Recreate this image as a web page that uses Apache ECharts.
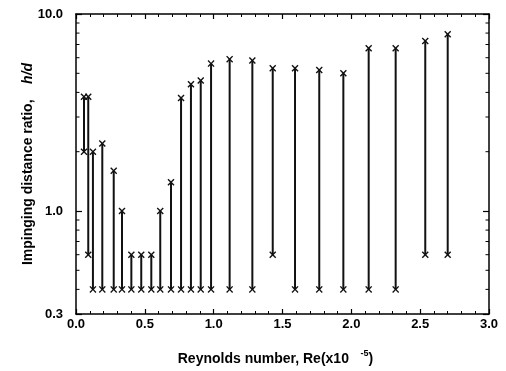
<!DOCTYPE html>
<html>
<head>
<meta charset="utf-8">
<script src="https://cdn.jsdelivr.net/npm/echarts@6/dist/echarts.min.js"></script>
<style>
html,body{margin:0;padding:0;background:#fff;}
#chart{width:506px;height:371px;}
</style>
</head>
<body>
<div id="chart"></div>
<script>
// Reynolds number (x10^-5) of each measured case
const reynolds = [0.058,0.089,0.123,0.191,0.274,0.334,0.402,0.474,0.547,0.612,0.690,0.763,0.835,0.906,0.981,1.116,1.281,1.429,1.591,1.767,1.942,2.126,2.322,2.537,2.700];
// lower and upper impinging distance ratio h/d
const hdMin = [2.0,0.6,0.4,0.4,0.4,0.4,0.4,0.4,0.4,0.4,0.4,0.4,0.4,0.4,0.4,0.4,0.4,0.6,0.4,0.4,0.4,0.4,0.4,0.6,0.6];
const hdMax = [3.8,3.8,2.0,2.2,1.6,1.0,0.6,0.6,0.6,1.0,1.4,3.75,4.4,4.6,5.6,5.9,5.8,5.3,5.3,5.2,5.0,6.7,6.7,7.3,7.9];
// log-axis minor tick values
const yMinorTicks = [0.4,0.5,0.6,0.7,0.8,0.9,2,3,4,5,6,7,8,9];
const xTickLabels = ['0.0','0.5','1.0','1.5','2.0','2.5','3.0'];

const FONT = '"Liberation Sans", Arial, sans-serif';
const chart = echarts.init(document.getElementById('chart'), null, {renderer:'canvas'});

const rangeData = reynolds.map((x,i)=>[x, hdMin[i], hdMax[i]]);
const markerData = [];
reynolds.forEach((x,i)=>{ markerData.push([x, hdMin[i]]); markerData.push([x, hdMax[i]]); });

const xSym = 'path://M0,1.4L1.4,0L5,3.6L8.6,0L10,1.4L6.4,5L10,8.6L8.6,10L5,6.4L1.4,10L0,8.6L3.6,5Z';

const axisCommon = {
  axisLine:{show:true, onZero:false, lineStyle:{color:'#000', width:1.5}},
  splitLine:{show:false}
};

chart.setOption({
  backgroundColor:'#fff',
  animation:false,
  grid:{left:76, right:17, top:14, bottom:56},
  xAxis:[
    Object.assign({
      type:'value', min:0, max:3, interval:0.5, position:'bottom',
      axisTick:{show:true, inside:true, length:5, lineStyle:{color:'#000', width:1.2}},
      minorTick:{show:true, splitNumber:5, length:3, lineStyle:{color:'#000', width:1}},
      axisLabel:{margin:4, color:'#000', fontFamily:FONT, fontWeight:'bold', fontSize:13,
        formatter:(v)=>{ const i = Math.round(v/0.5); return xTickLabels[i] !== undefined ? xTickLabels[i] : v.toFixed(1); }},
      name:'Reynolds number, Re(x10   {sup|-5})',
      nameLocation:'middle', nameGap:35, nameMoveOverlap:false,
      nameTextStyle:{color:'#000', fontFamily:FONT, fontWeight:'bold', fontSize:14, padding:[0,14,0,0],
        rich:{sup:{fontSize:9, fontWeight:'bold', fontFamily:FONT, color:'#000', padding:[0,0,11,0]}}}
    }, axisCommon),
    Object.assign({
      type:'value', min:0, max:3, interval:0.5, position:'top',
      axisTick:{show:true, inside:true, length:5, lineStyle:{color:'#000', width:1.2}},
      minorTick:{show:true, splitNumber:5, length:3, lineStyle:{color:'#000', width:1}},
      axisLabel:{show:false}
    }, axisCommon)
  ],
  yAxis:[
    Object.assign({
      type:'log', logBase:10, min:0.3, max:10, position:'left',
      axisTick:{show:true, inside:true, length:6, lineStyle:{color:'#000', width:1.2}},
      axisLabel:{margin:13, color:'#000', fontFamily:FONT, fontWeight:'bold', fontSize:13,
        showMinLabel:true, showMaxLabel:true,
        formatter:(v)=>Number(v).toFixed(1)},
      name:'Impinging distance ratio,    {it|h/d}',
      nameLocation:'middle', nameGap:41, nameMoveOverlap:false,
      nameTextStyle:{color:'#000', fontFamily:FONT, fontWeight:'bold', fontSize:14,
        rich:{it:{fontStyle:'italic', fontWeight:'bold', fontSize:14, fontFamily:FONT, color:'#000'}}}
    }, axisCommon),
    Object.assign({
      type:'log', logBase:10, min:0.3, max:10, position:'right',
      axisTick:{show:true, inside:true, length:6, lineStyle:{color:'#000', width:1.2}},
      axisLabel:{show:false}
    }, axisCommon)
  ],
  series:[
    {
      type:'custom', xAxisIndex:0, yAxisIndex:0, silent:true,
      data: yMinorTicks.map(v=>[0, v]),
      encode:{x:0, y:1},
      renderItem:(params, api)=>{
        const cs = params.coordSys;
        const p = api.coord([0, api.value(1)]);
        return {type:'group', children:[
          {type:'line', shape:{x1:cs.x, y1:p[1], x2:cs.x+3.5, y2:p[1]}, style:{stroke:'#000', lineWidth:1}},
          {type:'line', shape:{x1:cs.x+cs.width-3.5, y1:p[1], x2:cs.x+cs.width, y2:p[1]}, style:{stroke:'#000', lineWidth:1}}
        ]};
      }
    },
    {
      type:'custom', xAxisIndex:0, yAxisIndex:0, silent:true,
      data: rangeData,
      encode:{x:0, y:[1,2]},
      renderItem:(params, api)=>{
        const lo = api.coord([api.value(0), api.value(1)]);
        const hi = api.coord([api.value(0), api.value(2)]);
        return {type:'line', shape:{x1:lo[0], y1:lo[1], x2:hi[0], y2:hi[1]}, style:{stroke:'#111', lineWidth:2}};
      }
    },
    {
      type:'scatter', xAxisIndex:0, yAxisIndex:0, silent:true,
      data: markerData,
      symbol: xSym, symbolSize:7,
      itemStyle:{color:'#111', opacity:1}
    }
  ]
});
</script>
</body>
</html>
